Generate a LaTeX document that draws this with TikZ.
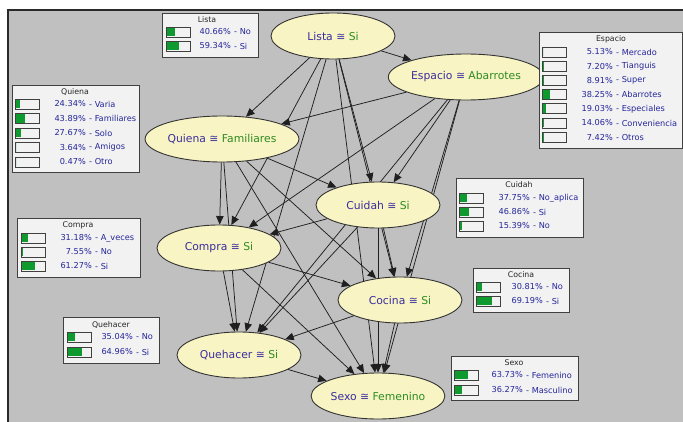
\documentclass[tikz,border=0pt]{standalone}
\usepackage{fontspec}
\setmainfont{DejaVu Sans}
\usetikzlibrary{shapes.geometric,arrows.meta}
\pgfdeclarelayer{back}
\pgfdeclarelayer{edges}
\pgfsetlayers{back,edges,main}
\definecolor{bgg}{HTML}{C0C0C0}
\definecolor{nodefill}{HTML}{F8F4C4}
\definecolor{varc}{HTML}{3A2E9E}
\definecolor{stc}{HTML}{2E8B22}
\definecolor{boxfill}{HTML}{F2F2F2}
\definecolor{barg}{HTML}{0E9A2E}
\definecolor{txtb}{HTML}{24249A}
\definecolor{framec}{HTML}{2A2A2A}
\tikzset{
 bn/.style={ellipse, draw=black!80, line width=0.9pt, fill=nodefill, minimum width=124pt, minimum height=46pt, inner sep=0pt, font=\fontsize{10.8}{12}\selectfont},
 edge/.style={draw=black!88, line width=0.75pt, -{Triangle[length=8.5pt,width=7.5pt]}},
 pbox/.style={draw=black!75, line width=1pt, fill=boxfill},
 ptitle/.style={font=\fontsize{7.8}{9}\selectfont, inner sep=0pt, text=black!85},
 ptxt/.style={font=\fontsize{8.2}{10}\selectfont, inner sep=0pt, text=txtb},
 pbar/.style={draw=black!75, line width=0.8pt, fill=white!95!black},
}
\newcommand\bnlabel[2]{\textcolor{varc}{#1 ≅} \textcolor{stc}{#2}}
\newcommand\prow[7]{%
 \draw[pbar] (#2,#3-5) rectangle (#2+24,#3+5);
 \fill[barg] (#2+0.6,#3-4.4) rectangle ({#2+0.6+max(0.01,24*#4-1.5)},#3+4.4);
 \node[ptxt,anchor=east] (#1p) at (#5,#3) {#6};
 \node[ptxt,anchor=west] (#1l) at (#5+3,#3) {- #7};
}
\begin{document}
\begin{tikzpicture}[x=1pt,y=-1pt]
\useasboundingbox (0,0) rectangle (683,422);
\begin{pgfonlayer}{back}
\fill[white] (0,0) rectangle (683,422);
\fill[bgg] (8,10) rectangle (683,422);
\draw[line width=2.5pt, framec] (8,422) -- (8,10) -- (683,10);
\end{pgfonlayer}

% network nodes
\node[bn] (L)   at (333,36)  {\bnlabel{Lista}{Si}};
\node[bn] (E)   at (466,77)  {\bnlabel{Espacio}{Abarrotes}};
\node[bn] (Q)   at (222,139) {\bnlabel{Quiena}{Familiares}};
\node[bn] (Cu)  at (378,205) {\bnlabel{Cuidah}{Si}};
\node[bn] (Co)  at (219,248) {\bnlabel{Compra}{Si}};
\node[bn] (Coc) at (400,300) {\bnlabel{Cocina}{Si}};
\node[bn] (Qh)  at (239,355) {\bnlabel{Quehacer}{Si}};
\node[bn] (S)   at (378,396) {\bnlabel{Sexo}{Femenino}};

\begin{pgfonlayer}{edges}
\foreach \a/\b in {L/E,L/Q,L/Cu,L/Co,L/Coc,L/Qh,L/S,
                   E/Q,E/Cu,E/Co,E/Coc,E/Qh,E/S,
                   Q/Cu,Q/Co,Q/Coc,Q/Qh,Q/S,
                   Cu/Co,Cu/Coc,Cu/Qh,Cu/S,
                   Co/Coc,Co/Qh,Co/S,
                   Coc/Qh,Coc/S,
                   Qh/S}
  \draw[edge] (\a) -- (\b);
\end{pgfonlayer}

% probability boxes
% Lista
\node[pbox, minimum width=96pt, minimum height=44pt, anchor=north west, inner sep=0pt] (bL) at (162,13) {};
\node[ptitle] (tL) at (207,20) {Lista};
\prow{L1}{166}{32}{0.4066}{231}{40.66\%}{No}
\prow{L2}{166}{46}{0.5934}{231}{59.34\%}{Si}
% Quiena
\node[pbox, minimum width=127pt, minimum height=87pt, anchor=north west, inner sep=0pt] (bQ) at (12,85) {};
\node[ptitle] (tQ) at (75,92) {Quiena};
\prow{Q1}{15}{104}{0.2434}{86}{24.34\%}{Varia}
\prow{Q2}{15}{118.5}{0.4389}{86}{43.89\%}{Familiares}
\prow{Q3}{15}{133}{0.2767}{86}{27.67\%}{Solo}
\prow{Q4}{15}{147.5}{0.0364}{86}{3.64\%}{Amigos}
\prow{Q5}{15}{162}{0.0047}{86}{0.47\%}{Otro}
% Espacio
\node[pbox, minimum width=143pt, minimum height=116pt, anchor=north west, inner sep=0pt] (bE) at (539,32) {};
\node[ptitle] (tE) at (611,39) {Espacio};
\prow{E1}{542}{52}{0.0513}{613}{5.13\%}{Mercado}
\prow{E2}{542}{66.2}{0.0720}{613}{7.20\%}{Tianguis}
\prow{E3}{542}{80.4}{0.0891}{613}{8.91\%}{Super}
\prow{E4}{542}{94.6}{0.3825}{613}{38.25\%}{Abarrotes}
\prow{E5}{542}{108.8}{0.1903}{613}{19.03\%}{Especiales}
\prow{E6}{542}{123}{0.1406}{613}{14.06\%}{Conveniencia}
\prow{E7}{542}{137.2}{0.0742}{613}{7.42\%}{Otros}
% Cuidah
\node[pbox, minimum width=127pt, minimum height=59pt, anchor=north west, inner sep=0pt] (bCu) at (456,178) {};
\node[ptitle] (tCu) at (519,185) {Cuidah};
\prow{Cu1}{459}{198}{0.3775}{530}{37.75\%}{No\_aplica}
\prow{Cu2}{459}{212}{0.4686}{530}{46.86\%}{Si}
\prow{Cu3}{459}{226}{0.1539}{530}{15.39\%}{No}
% Compra
\node[pbox, minimum width=123pt, minimum height=59pt, anchor=north west, inner sep=0pt] (bCo) at (17,218) {};
\node[ptitle] (tCo) at (78,225) {Compra};
\prow{Co1}{21}{238}{0.3118}{92}{31.18\%}{A\_veces}
\prow{Co2}{21}{252}{0.0755}{92}{7.55\%}{No}
\prow{Co3}{21}{266}{0.6127}{92}{61.27\%}{Si}
% Cocina
\node[pbox, minimum width=96pt, minimum height=44pt, anchor=north west, inner sep=0pt] (bCoc) at (473,268) {};
\node[ptitle] (tCoc) at (521,275) {Cocina};
\prow{Coc1}{476}{287}{0.3081}{543}{30.81\%}{No}
\prow{Coc2}{476}{301}{0.6919}{543}{69.19\%}{Si}
% Quehacer
\node[pbox, minimum width=96pt, minimum height=46pt, anchor=north west, inner sep=0pt] (bQh) at (63,317) {};
\node[ptitle] (tQh) at (111,325) {Quehacer};
\prow{Qh1}{67}{337}{0.3504}{133}{35.04\%}{No}
\prow{Qh2}{67}{352}{0.6496}{133}{64.96\%}{Si}
% Sexo
\node[pbox, minimum width=127pt, minimum height=44pt, anchor=north west, inner sep=0pt] (bS) at (451,356) {};
\node[ptitle] (tS) at (514,363) {Sexo};
\prow{S1}{454}{375}{0.6373}{523}{63.73\%}{Femenino}
\prow{S2}{454}{390}{0.3627}{523}{36.27\%}{Masculino}
\end{tikzpicture}
\end{document}
